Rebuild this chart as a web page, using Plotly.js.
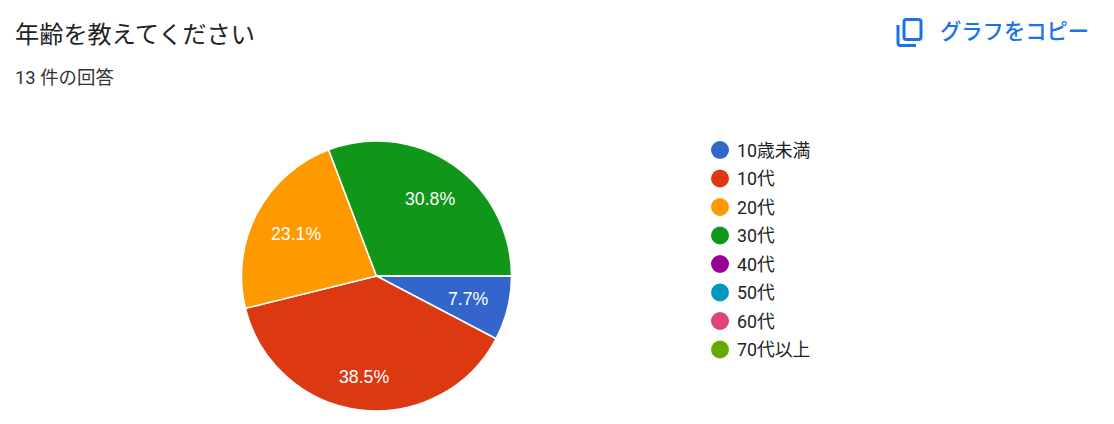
<!DOCTYPE html>
<html><head><meta charset="utf-8">
<script src="https://cdn.plot.ly/plotly-3.0.1.min.js"></script>
<style>html,body{margin:0;padding:0;background:#fff}#c{width:1114px;height:424px}</style>
</head><body><div id="c"></div>
<script>
const categories=["10歳未満","10代","20代","30代","40代","50代","60代","70代以上"];
const counts=[1,5,3,4,0,0,0,0];
const colors=["#3366cc","#dc3912","#ff9900","#109618","#990099","#0099c6","#dd4477","#66aa00"];
const titleText="年齢を教えてください";
const subtitleText="13 件の回答";
const copyText="グラフをコピー";
const W=1114,H=424;
const FONT="Roboto, 'Noto Sans CJK JP', sans-serif";
const px=x=>x/W, py=y=>1-y/H;
const cx=376.5,cy=276,R=135;
const labelRadii=[95,102,91,94];
const legendX=720,legendTop=150,legendStep=28.5,dotR=9;
const shapes=[],annotations=[];
categories.forEach((c,i)=>{
  const y=legendTop+i*legendStep;
  shapes.push({type:'circle',xref:'paper',yref:'paper',x0:px(legendX-dotR),x1:px(legendX+dotR),y0:py(y+dotR),y1:py(y-dotR),fillcolor:colors[i],line:{width:0}});
  annotations.push({text:c,xref:'paper',yref:'paper',x:px(735),y:py(y),xanchor:'left',yanchor:'middle',showarrow:false,font:{family:FONT,size:17.8,color:'#222222'}});
});
const total=counts.reduce((a,b)=>a+b,0);
let acc=0;
counts.forEach((v,i)=>{
  if(!v)return;
  const mid=(acc+v/2)/total*2*Math.PI; acc+=v;
  const r=labelRadii[i];
  annotations.push({text:(v/total*100).toFixed(1)+'%',xref:'paper',yref:'paper',x:px(cx+r*Math.cos(mid)),y:py(cy+r*Math.sin(mid)),xanchor:'center',yanchor:'middle',showarrow:false,font:{family:"'Liberation Sans', Arial, sans-serif",size:17.7,color:'#ffffff'}});
});
annotations.push({text:subtitleText,xref:'paper',yref:'paper',x:px(13),y:py(77),xanchor:'left',yanchor:'middle',showarrow:false,font:{family:FONT,size:18.4,color:'#333333'}});
annotations.push({text:copyText,xref:'paper',yref:'paper',x:px(938),y:py(32),xanchor:'left',yanchor:'middle',showarrow:false,font:{family:FONT,size:21.3,color:'#1a73e8',weight:500}});
const iconLine={color:'#1a73e8',width:3};
const P=(x,y)=>`${px(x)},${py(y)}`;
shapes.push({type:'path',xref:'paper',yref:'paper',line:iconLine,path:`M${P(906.5,19.5)} L${P(918.5,19.5)} Q${P(921,19.5)} ${P(921,22)} L${P(921,37)} Q${P(921,39.5)} ${P(918.5,39.5)} L${P(906.5,39.5)} Q${P(904,39.5)} ${P(904,37)} L${P(904,22)} Q${P(904,19.5)} ${P(906.5,19.5)} Z`});
shapes.push({type:'path',xref:'paper',yref:'paper',line:iconLine,path:`M${P(898,25)} L${P(898,43)} Q${P(898,45.5)} ${P(900.5,45.5)} L${P(916,45.5)}`});
Plotly.newPlot('c',[{
  type:'pie',labels:categories,values:counts,sort:false,direction:'clockwise',rotation:90,
  marker:{colors:colors,line:{color:'#ffffff',width:1.5}},
  textinfo:'none',
  domain:{x:[px(cx-R),px(cx+R)],y:[py(cy+R),py(cy-R)]},showlegend:false,hoverinfo:'label+percent'
}],{
  width:W,height:H,margin:{l:0,r:0,t:0,b:0},paper_bgcolor:'#fff',showlegend:false,
  title:{text:titleText,x:px(15),xanchor:'left',xref:'paper',y:py(35),yanchor:'middle',font:{family:FONT,size:24.2,color:'#222222'}},
  shapes:shapes,annotations:annotations
},{displayModeBar:false,staticPlot:true});
</script></body></html>
